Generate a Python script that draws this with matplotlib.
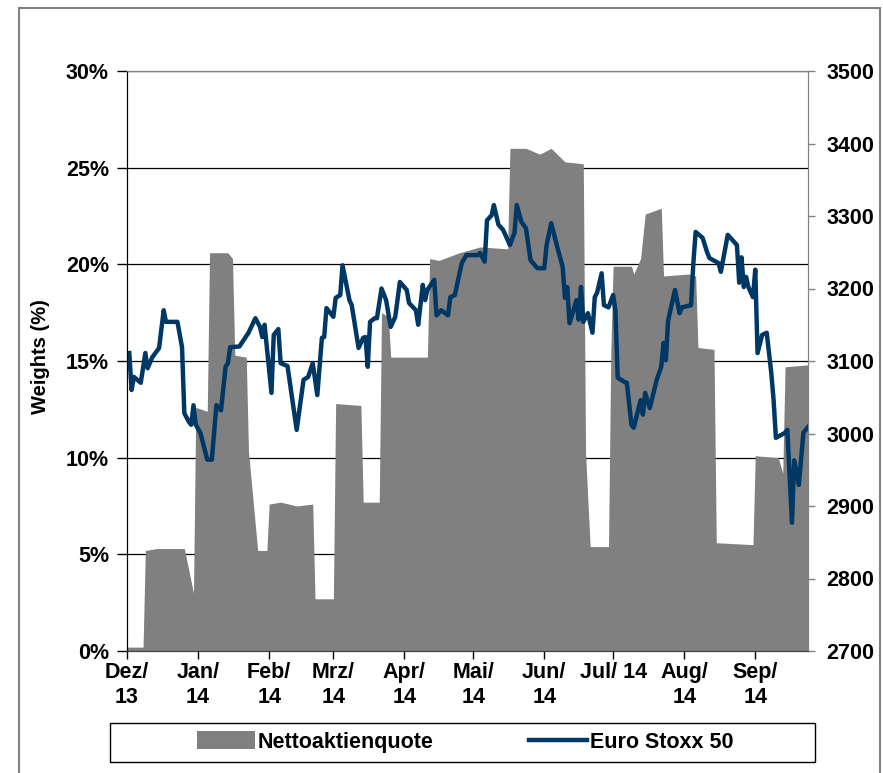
import matplotlib
matplotlib.use("Agg")
import matplotlib.pyplot as plt
from matplotlib.patches import Rectangle, Patch
from matplotlib.lines import Line2D
import pandas as pd

plt.rcParams['font.family'] = ['Liberation Sans', 'DejaVu Sans']
plt.rcParams['font.weight'] = 'bold'

# Nettoaktienquote (%), left axis
quote_dates = [
    '2013-12-01', '2013-12-08', '2013-12-09', '2013-12-14', '2013-12-26', '2013-12-30',
    '2013-12-31', '2014-01-05', '2014-01-06', '2014-01-14', '2014-01-16', '2014-01-17',
    '2014-01-22', '2014-01-23', '2014-01-27', '2014-01-31', '2014-02-01', '2014-02-06',
    '2014-02-13', '2014-02-20', '2014-02-21', '2014-03-01', '2014-03-02', '2014-03-13',
    '2014-03-14', '2014-03-21', '2014-03-22', '2014-03-25', '2014-03-26', '2014-04-11',
    '2014-04-12', '2014-04-16', '2014-04-25', '2014-05-04', '2014-05-16', '2014-05-17',
    '2014-05-24', '2014-05-30', '2014-06-04', '2014-06-10', '2014-06-18', '2014-06-19',
    '2014-06-21', '2014-06-29', '2014-06-30', '2014-07-01', '2014-07-09', '2014-07-10',
    '2014-07-13', '2014-07-15', '2014-07-22', '2014-07-23', '2014-08-03', '2014-08-06',
    '2014-08-07', '2014-08-14', '2014-08-15', '2014-08-31', '2014-09-01', '2014-09-11',
    '2014-09-13', '2014-09-14', '2014-09-24',
]
quote_values = [
    0.2, 0.2, 5.2, 5.3, 5.3, 3.0,
    12.6, 12.4, 20.6, 20.6, 20.3, 15.3,
    15.2, 10.3, 5.2, 5.2, 7.6, 7.7,
    7.5, 7.6, 2.7, 2.7, 12.8, 12.7,
    7.7, 7.7, 17.5, 17.3, 15.2, 15.2,
    20.3, 20.2, 20.6, 20.9, 20.8, 26.0,
    26.0, 25.7, 26.0, 25.3, 25.2, 10.2,
    5.4, 5.4, 15.5, 19.9, 19.9, 19.5,
    20.3, 22.6, 22.9, 19.4, 19.5, 19.4,
    15.7, 15.6, 5.6, 5.5, 10.1, 10.0,
    9.2, 14.7, 14.8,
]

# Euro Stoxx 50, right axis
stoxx_dates = [
    '2013-12-02', '2013-12-03', '2013-12-04', '2013-12-07', '2013-12-09', '2013-12-10',
    '2013-12-12', '2013-12-15', '2013-12-17', '2013-12-18', '2013-12-23', '2013-12-25',
    '2013-12-26', '2013-12-28', '2013-12-29', '2013-12-30', '2013-12-31', '2014-01-02',
    '2014-01-05', '2014-01-07', '2014-01-09', '2014-01-11', '2014-01-13', '2014-01-14',
    '2014-01-15', '2014-01-19', '2014-01-23', '2014-01-26', '2014-01-28', '2014-01-29',
    '2014-01-30', '2014-02-02', '2014-02-03', '2014-02-05', '2014-02-06', '2014-02-09',
    '2014-02-13', '2014-02-16', '2014-02-18', '2014-02-20', '2014-02-22', '2014-02-24',
    '2014-02-25', '2014-02-26', '2014-03-01', '2014-03-02', '2014-03-04', '2014-03-05',
    '2014-03-08', '2014-03-09', '2014-03-12', '2014-03-14', '2014-03-15', '2014-03-16',
    '2014-03-17', '2014-03-19', '2014-03-20', '2014-03-22', '2014-03-24', '2014-03-26',
    '2014-03-28', '2014-03-30', '2014-04-02', '2014-04-03', '2014-04-06', '2014-04-07',
    '2014-04-09', '2014-04-10', '2014-04-11', '2014-04-14', '2014-04-15', '2014-04-17',
    '2014-04-20', '2014-04-21', '2014-04-23', '2014-04-26', '2014-04-28', '2014-05-03',
    '2014-05-04', '2014-05-06', '2014-05-07', '2014-05-09', '2014-05-10', '2014-05-12',
    '2014-05-14', '2014-05-17', '2014-05-19', '2014-05-20', '2014-05-22', '2014-05-24',
    '2014-05-26', '2014-05-29', '2014-06-01', '2014-06-02', '2014-06-04', '2014-06-07',
    '2014-06-09', '2014-06-10', '2014-06-11', '2014-06-12', '2014-06-15', '2014-06-16',
    '2014-06-17', '2014-06-18', '2014-06-20', '2014-06-22', '2014-06-23', '2014-06-24',
    '2014-06-26', '2014-06-27', '2014-06-29', '2014-07-01', '2014-07-02', '2014-07-03',
    '2014-07-06', '2014-07-07', '2014-07-09', '2014-07-10', '2014-07-13', '2014-07-14',
    '2014-07-15', '2014-07-17', '2014-07-20', '2014-07-22', '2014-07-23', '2014-07-24',
    '2014-07-25', '2014-07-28', '2014-07-30', '2014-07-31', '2014-08-04', '2014-08-05',
    '2014-08-06', '2014-08-09', '2014-08-11', '2014-08-12', '2014-08-16', '2014-08-17',
    '2014-08-20', '2014-08-24', '2014-08-25', '2014-08-26', '2014-08-27', '2014-08-28',
    '2014-08-29', '2014-08-31', '2014-09-01', '2014-09-02', '2014-09-04', '2014-09-06',
    '2014-09-08', '2014-09-09', '2014-09-10', '2014-09-14', '2014-09-15', '2014-09-17',
    '2014-09-18', '2014-09-20', '2014-09-22', '2014-09-24',
]
stoxx_values = [
    3111, 3060, 3078, 3070, 3111, 3090,
    3105, 3118, 3170, 3154, 3154, 3119,
    3028, 3016, 3012, 3039, 3012, 3001,
    2964, 2964, 3039, 3032, 3092, 3097,
    3119, 3120, 3139, 3159, 3147, 3133,
    3150, 3056, 3136, 3144, 3097, 3093,
    3005, 3074, 3078, 3097, 3053, 3132,
    3133, 3173, 3161, 3187, 3191, 3232,
    3184, 3177, 3118, 3132, 3133, 3092,
    3154, 3159, 3159, 3200, 3184, 3147,
    3161, 3209, 3198, 3180, 3170, 3150,
    3205, 3184, 3198, 3212, 3163, 3170,
    3163, 3188, 3191, 3235, 3246, 3246,
    3249, 3237, 3294, 3301, 3315, 3288,
    3281, 3260, 3277, 3315, 3292, 3283,
    3239, 3228, 3228, 3260, 3290, 3253,
    3230, 3187, 3202, 3152, 3184, 3157,
    3202, 3154, 3166, 3139, 3188, 3194,
    3221, 3177, 3174, 3191, 3170, 3077,
    3071, 3070, 3012, 3008, 3046, 3026,
    3056, 3035, 3074, 3092, 3125, 3101,
    3156, 3198, 3166, 3174, 3177, 3235,
    3278, 3270, 3250, 3242, 3235, 3223,
    3274, 3260, 3208, 3243, 3202, 3216,
    3202, 3188, 3226, 3111, 3136, 3139,
    3083, 3046, 2994, 3001, 3005, 2877,
    2963, 2929, 3001, 3009,
]

month_starts = ['2013-12-01', '2014-01-01', '2014-02-01', '2014-03-01', '2014-04-01',
                '2014-05-01', '2014-06-01', '2014-07-01', '2014-08-01', '2014-09-01']
month_labels = ['Dez/\n13', 'Jan/\n14', 'Feb/\n14', 'Mrz/\n14', 'Apr/\n14',
                'Mai/\n14', 'Jun/\n14', 'Jul/ 14', 'Aug/\n14', 'Sep/\n14']

FS = 15.5
W, H = 883, 773
fig = plt.figure(figsize=(W / 100, H / 100), dpi=100)
ax = fig.add_axes([127 / W, 1 - 651 / H, (808 - 127) / W, (651 - 71) / H])
ax2 = ax.twinx()

qd = pd.to_datetime(quote_dates)
sd = pd.to_datetime(stoxx_dates)

ax.fill_between(qd, quote_values, 0, color='#808080', lw=0)
ax.set_axisbelow(True)
ax.yaxis.grid(True, color='#000000', lw=0.9)
ax.set_ylim(0, 30)
ax.set_yticks(range(0, 31, 5))
ax.set_yticklabels([f'{v}%' for v in range(0, 31, 5)])
ax.set_xlim(pd.Timestamp('2013-12-01'), pd.Timestamp('2014-09-24'))
ax.set_xticks(pd.to_datetime(month_starts))
ax.set_xticklabels(month_labels, linespacing=1.25)

ax2.plot(sd, stoxx_values, color='#003865', lw=3.2, solid_joinstyle='round')
ax2.set_ylim(2700, 3500)
ax2.set_yticks(range(2700, 3501, 100))

for a in (ax, ax2):
    a.spines['top'].set_color('#808080')
    a.spines['right'].set_color('#808080')
    a.spines['left'].set_color('#000000')
    a.spines['bottom'].set_color('#404040')
ax.tick_params(axis='y', length=7, width=1, color='#000000', labelsize=FS, pad=6)
ax.tick_params(axis='x', length=6, width=1, color='#000000', labelsize=FS, pad=2)
ax2.tick_params(axis='y', length=5, width=1, color='#808080', labelsize=FS, pad=8)
for lab in ax.get_xticklabels() + ax.get_yticklabels() + ax2.get_yticklabels():
    lab.set_fontweight('bold')

fig.text(40 / W, 1 - 357 / H, 'Weights (%)', rotation=90, ha='center', va='center',
         fontsize=14.5, fontweight='bold')

# outer frame and legend box
fig.patches.append(Rectangle((19 / W, -0.01), (880 - 19) / W, 1 - 8 / H + 0.01,
                             transform=fig.transFigure, fill=False,
                             edgecolor='#808080', lw=1.5))
fig.patches.append(Rectangle((110 / W, 1 - 762 / H), (815 - 110) / W, 39 / H,
                             transform=fig.transFigure, fill=False,
                             edgecolor='#000000', lw=1.0))
handles = [Patch(facecolor='#808080', edgecolor='none'),
           Line2D([], [], color='#003865', lw=3.2)]
fig.legend(handles, ['Nettoaktienquote', 'Euro Stoxx 50'], loc='center',
           bbox_to_anchor=(465 / W, 1 - 742 / H), ncol=2, frameon=False,
           prop={'size': FS, 'weight': 'bold'}, handlelength=2.7,
           handleheight=0.9, handletextpad=0.15, columnspacing=4.4)

fig.savefig('out.png', dpi=100)
